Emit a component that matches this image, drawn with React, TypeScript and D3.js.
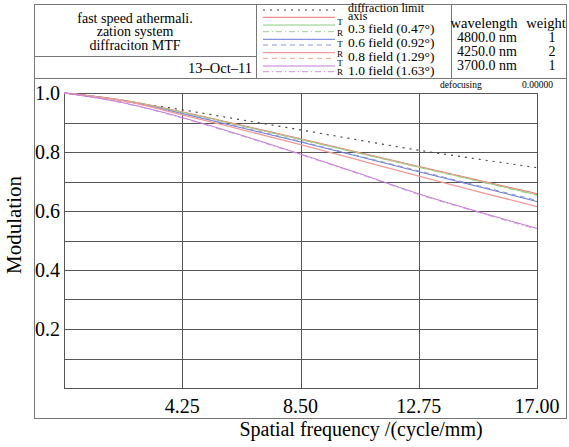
import React from "react";
import * as d3 from "d3";

const freqs = [0, 2.125, 4.25, 6.375, 8.5, 10.625, 12.75, 14.875, 17];
const diffractionLimit = [1.0, 0.972, 0.943, 0.909, 0.875, 0.840, 0.806, 0.776, 0.747];
const axisMTF = [1.0, 0.976, 0.936, 0.891, 0.845, 0.798, 0.751, 0.705, 0.659];
const f03T = [1.0, 0.975, 0.935, 0.889, 0.843, 0.796, 0.749, 0.702, 0.655];
const f03R = [1.0, 0.975, 0.934, 0.888, 0.842, 0.795, 0.748, 0.701, 0.653];
const f06T = [1.0, 0.974, 0.930, 0.882, 0.834, 0.784, 0.733, 0.683, 0.632];
const f06R = [1.0, 0.974, 0.931, 0.884, 0.836, 0.786, 0.736, 0.686, 0.636];
const f08T = [1.0, 0.973, 0.926, 0.876, 0.825, 0.772, 0.718, 0.666, 0.615];
const f08R = [1.0, 0.975, 0.936, 0.890, 0.844, 0.797, 0.750, 0.704, 0.657];
const f10T = [1.0, 0.967, 0.917, 0.857, 0.793, 0.727, 0.658, 0.598, 0.541];
const f10R = [1.0, 0.966, 0.915, 0.855, 0.791, 0.725, 0.656, 0.596, 0.538];

const xTicks = [4.25, 8.5, 12.75, 17];
const xTickLabels = ["4.25", "8.50", "12.75", "17.00"];
const yTicks = [0.2, 0.4, 0.6, 0.8, 1.0];
const yGrid = [0.1, 0.2, 0.3, 0.4, 0.5, 0.6, 0.7, 0.8, 0.9, 1.0];

const titleLines = ["fast speed athermali.", "zation system", "diffraciton MTF"];
const dateText = "13\u2013Oct\u201311";
const wavelengths = ["4800.0 nm", "4250.0 nm", "3700.0 nm"];
const weights = ["1", "2", "1"];

const series = [
  { name: "diffraction limit", values: diffractionLimit, color: "#444", dash: "2,5", width: 1.2 },
  { name: "axis", values: axisMTF, color: "#e87070", dash: "", width: 1 },
  { name: "0.3T", values: f03T, color: "#88cc80", dash: "", width: 1 },
  { name: "0.3R", values: f03R, color: "#98d088", dash: "6,3,1,3", width: 1 },
  { name: "0.6T", values: f06T, color: "#6878d8", dash: "", width: 1 },
  { name: "0.6R", values: f06R, color: "#8898e0", dash: "5,4", width: 1 },
  { name: "0.8T", values: f08T, color: "#f29a9a", dash: "", width: 1.3 },
  { name: "0.8R", values: f08R, color: "#f0a888", dash: "5,4", width: 1 },
  { name: "1.0T", values: f10T, color: "#c278d8", dash: "", width: 1 },
  { name: "1.0R", values: f10R, color: "#d090e0", dash: "6,3,1,3", width: 1 },
];

const legendLineY = [10, 17.3, 25, 31.7, 39.3, 45, 52.7, 58.3, 66, 71.7];
const fieldLabels = ["0.3 field (0.47\u00b0)", "0.6 field (0.92\u00b0)", "0.8 field (1.29\u00b0)", "1.0 field (1.63\u00b0)"];
const fieldLabelY = [33, 47, 60.5, 75];
const trLabels = ["T", "R", "T", "R", "T", "R"];
const trY = [24.5, 36, 47, 56.5, 65.5, 75];

const FONT = "'Liberation Serif', 'Times New Roman', serif";

export default function App() {
  const L = 64, R = 537, T = 93, B = 388;
  const x = d3.scaleLinear().domain([0, 17]).range([L, R]);
  const y = d3.scaleLinear().domain([0, 1]).range([B, T]);
  const line = d3
    .line<number>()
    .x((_, i) => x(freqs[i]))
    .y((v) => y(v))
    .curve(d3.curveMonotoneX);

  const frame = "#777";
  const grid = "#555";
  const ink = "#000";

  return (
    <svg width={569} height={447} style={{ position: "absolute", left: 0, top: 0, background: "#fff" }} fontFamily={FONT}>
      <rect x={0} y={0} width={569} height={447} fill="#fff" />
      {/* header frame */}
      <rect x={34.5} y={4.5} width={532} height={414} fill="none" stroke={frame} strokeWidth={1} />
      <line x1={34.5} x2={566.5} y1={78.5} y2={78.5} stroke={frame} strokeWidth={1.2} />
      <line x1={256.5} x2={256.5} y1={4.5} y2={78.5} stroke={frame} />
      <line x1={451.5} x2={451.5} y1={4.5} y2={78.5} stroke={frame} />
      <line x1={34.5} x2={256.5} y1={56.5} y2={56.5} stroke={frame} strokeWidth={1.2} />

      {titleLines.map((t, i) => (
        <text key={t} x={135} y={22.5 + i * 13.7} textAnchor="middle" fontSize={14} fill={ink}>
          {t}
        </text>
      ))}
      <text x={252} y={73} textAnchor="end" fontSize={14.5} fill={ink}>
        {dateText}
      </text>

      {/* legend */}
      {series.map((s, i) => (
        <line
          key={s.name}
          x1={263}
          x2={335}
          y1={legendLineY[i]}
          y2={legendLineY[i]}
          stroke={s.color}
          strokeWidth={s.width}
          strokeDasharray={s.dash || undefined}
        />
      ))}
      <text x={348} y={12} fontSize={12} fill={ink}>diffraction limit</text>
      <text x={348} y={20} fontSize={12} fill={ink}>axis</text>
      {fieldLabels.map((t, i) => (
        <text key={t} x={348} y={fieldLabelY[i]} fontSize={13.5} fill={ink}>
          {t}
        </text>
      ))}
      {trLabels.map((t, i) => (
        <text key={i} x={340} y={trY[i]} textAnchor="middle" fontSize={9} fill={ink}>
          {t}
        </text>
      ))}

      {/* wavelength table */}
      <text x={484} y={27.5} textAnchor="middle" fontSize={14.5} fill={ink}>wavelength</text>
      <text x={546} y={27.5} textAnchor="middle" fontSize={14.5} fill={ink}>weight</text>
      {wavelengths.map((w, i) => (
        <text key={w} x={487} y={42 + i * 14.2} textAnchor="middle" fontSize={14} fill={ink}>
          {w}
        </text>
      ))}
      {weights.map((w, i) => (
        <text key={i} x={552} y={42 + i * 14.2} textAnchor="middle" fontSize={14} fill={ink}>
          {w}
        </text>
      ))}

      <text x={440} y={88} fontSize={9.5} fill={ink}>defocusing</text>
      <text x={522} y={88} fontSize={9.5} fill={ink}>0.00000</text>

      {/* grid */}
      {yGrid.map((v) => (
        <line key={v} x1={L} x2={R} y1={Math.round(y(v)) + 0.5} y2={Math.round(y(v)) + 0.5} stroke={grid} strokeWidth={1} />
      ))}
      {xTicks.map((v) => (
        <line key={v} x1={Math.round(x(v)) + 0.5} x2={Math.round(x(v)) + 0.5} y1={T} y2={B} stroke={grid} strokeWidth={1} />
      ))}
      <rect x={L + 0.5} y={T + 0.5} width={R - L} height={B - T} fill="none" stroke={grid} strokeWidth={1} />

      {/* curves */}
      {series.map((s) => (
        <path
          key={s.name}
          d={line(s.values) || ""}
          fill="none"
          stroke={s.color}
          strokeWidth={s.width}
          strokeDasharray={s.dash || undefined}
        />
      ))}

      {/* y tick labels */}
      {yTicks.map((v) => (
        <text key={v} x={60} y={y(v)} dy="0.35em" textAnchor="end" fontSize={20} fill={ink}>
          {v.toFixed(1)}
        </text>
      ))}
      {/* x tick labels */}
      {xTicks.map((v, i) => (
        <text key={v} x={x(v)} y={413} textAnchor="middle" fontSize={20} fill={ink}>
          {xTickLabels[i]}
        </text>
      ))}

      <text x={361} y={436} textAnchor="middle" fontSize={20} fill={ink}>
        Spatial frequency /(cycle/mm)
      </text>
      <text transform="translate(21,225) rotate(-90)" textAnchor="middle" fontSize={21} fill={ink}>
        Modulation
      </text>
    </svg>
  );
}
